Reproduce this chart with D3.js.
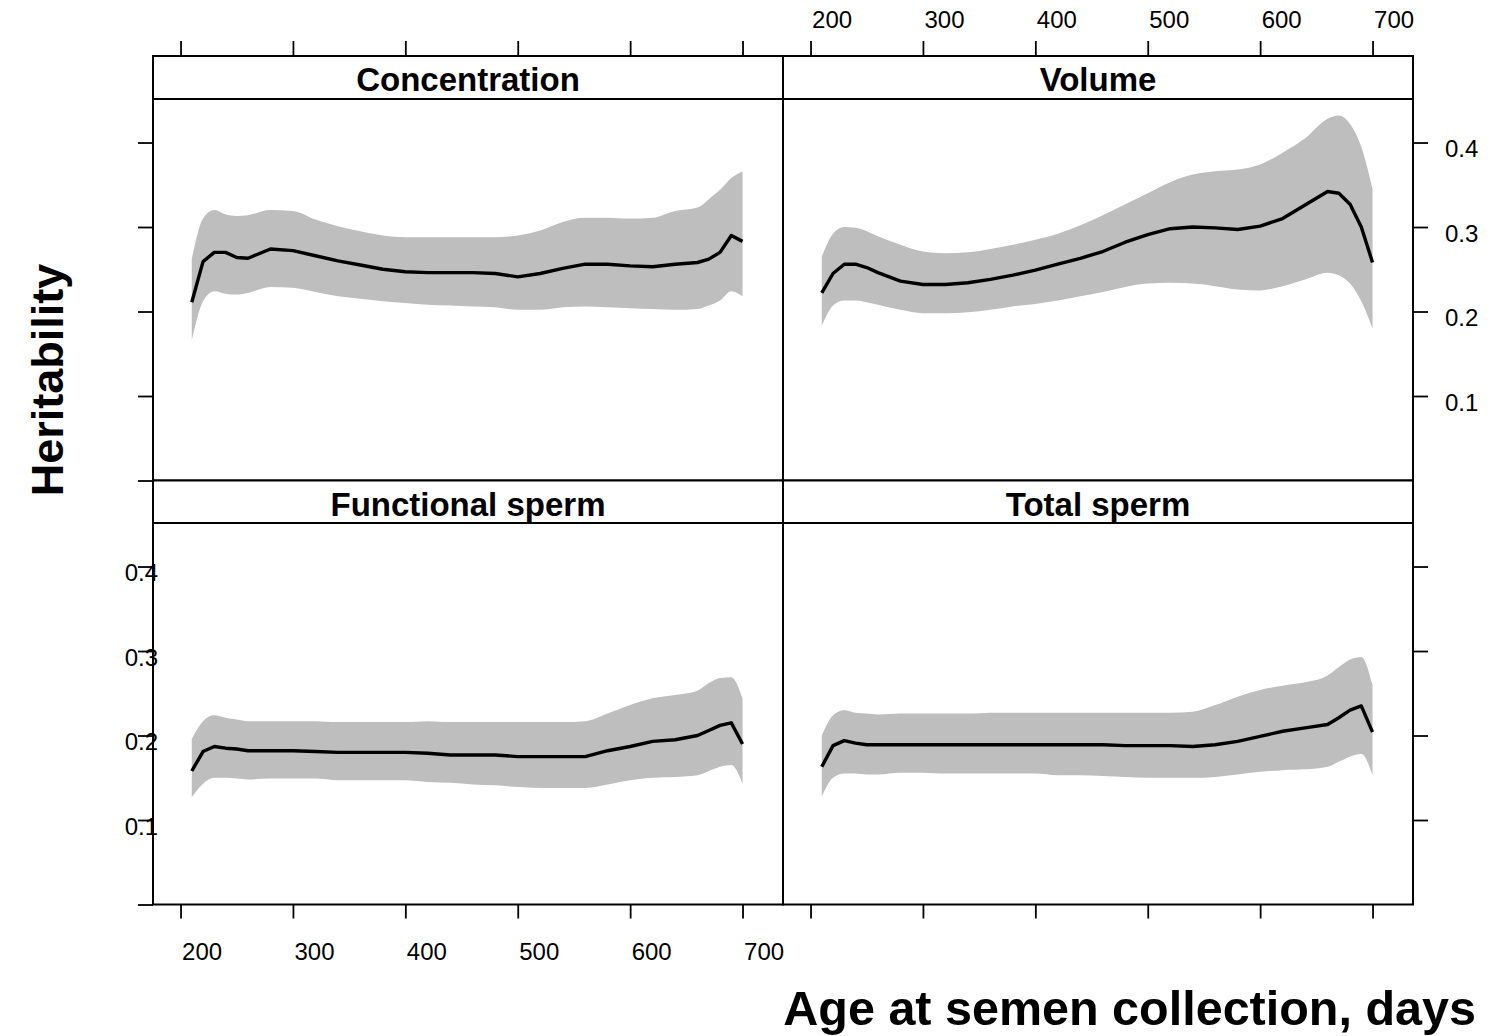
<!DOCTYPE html>
<html>
<head>
<meta charset="utf-8">
<script src="https://cdn.jsdelivr.net/npm/d3@7"></script>
<style>
  body { margin: 0; background: #ffffff; }
  svg { display: block; }
</style>
</head>
<body>
<svg id="chart" width="1489" height="1036"></svg>
<script>
// ---------------- data ----------------
const ages = [210,220,230,240,250,260,280,300,320,340,360,380,400,420,440,460,480,500,520,540,560,580,600,620,640,660,670,680,690,700];

const panelNames = ["Concentration", "Volume", "Functional sperm", "Total sperm"];

const concMean  = [0.211,0.259,0.270,0.270,0.264,0.263,0.274,0.272,0.266,0.260,0.255,0.250,0.247,0.246,0.246,0.246,0.245,0.241,0.245,0.251,0.256,0.256,0.254,0.253,0.256,0.258,0.262,0.270,0.290,0.283];
const concUpper = [0.262,0.310,0.320,0.315,0.313,0.314,0.320,0.319,0.309,0.301,0.295,0.290,0.288,0.288,0.288,0.288,0.288,0.290,0.296,0.306,0.311,0.311,0.310,0.311,0.319,0.323,0.333,0.344,0.358,0.366];
const concLower = [0.166,0.212,0.224,0.221,0.220,0.222,0.229,0.228,0.223,0.218,0.215,0.212,0.210,0.208,0.207,0.206,0.205,0.202,0.202,0.205,0.206,0.205,0.204,0.203,0.202,0.203,0.207,0.213,0.224,0.218];

const volMean  = [0.222,0.245,0.256,0.256,0.252,0.246,0.236,0.232,0.232,0.234,0.238,0.243,0.249,0.256,0.263,0.271,0.282,0.291,0.298,0.300,0.299,0.297,0.301,0.310,0.326,0.342,0.340,0.327,0.300,0.258];
const volUpper = [0.265,0.292,0.300,0.299,0.295,0.289,0.279,0.271,0.269,0.270,0.274,0.279,0.285,0.292,0.302,0.314,0.327,0.340,0.353,0.362,0.366,0.368,0.374,0.388,0.405,0.428,0.432,0.422,0.395,0.345];
const volLower = [0.183,0.207,0.213,0.213,0.211,0.208,0.202,0.198,0.198,0.199,0.202,0.206,0.209,0.213,0.218,0.223,0.229,0.233,0.234,0.233,0.230,0.226,0.225,0.230,0.238,0.246,0.243,0.233,0.212,0.180];

const funcMean  = [0.158,0.181,0.187,0.185,0.184,0.182,0.182,0.182,0.181,0.180,0.180,0.180,0.180,0.179,0.177,0.177,0.177,0.175,0.175,0.175,0.175,0.182,0.187,0.193,0.195,0.200,0.206,0.212,0.215,0.190];
const funcUpper = [0.196,0.217,0.224,0.221,0.219,0.217,0.217,0.217,0.217,0.216,0.216,0.216,0.216,0.217,0.216,0.216,0.216,0.216,0.216,0.216,0.217,0.226,0.236,0.244,0.248,0.253,0.262,0.268,0.269,0.244];
const funcLower = [0.127,0.143,0.150,0.150,0.149,0.148,0.149,0.149,0.149,0.147,0.147,0.147,0.147,0.145,0.144,0.142,0.141,0.139,0.138,0.138,0.138,0.142,0.147,0.150,0.151,0.153,0.158,0.163,0.165,0.143];

const totMean  = [0.163,0.188,0.194,0.191,0.189,0.189,0.189,0.189,0.189,0.189,0.189,0.189,0.189,0.189,0.189,0.189,0.188,0.188,0.188,0.187,0.189,0.193,0.199,0.205,0.209,0.213,0.221,0.230,0.235,0.204];
const totUpper = [0.200,0.224,0.230,0.227,0.226,0.225,0.226,0.226,0.226,0.226,0.227,0.227,0.227,0.227,0.227,0.227,0.227,0.227,0.227,0.228,0.236,0.246,0.254,0.259,0.263,0.271,0.281,0.290,0.293,0.260];
const totLower = [0.128,0.150,0.155,0.155,0.154,0.154,0.156,0.156,0.155,0.155,0.155,0.155,0.155,0.153,0.153,0.152,0.151,0.150,0.150,0.150,0.151,0.154,0.157,0.159,0.160,0.163,0.169,0.175,0.178,0.153];

const xTicks = [200, 300, 400, 500, 600, 700];
const yTicks = [0, 0.1, 0.2, 0.3, 0.4];
const yTickLabels = ["", "0.1", "0.2", "0.3", "0.4"];

const xTitle = "Age at semen collection, days";
const yTitle = "Heritability";

// ---------------- layout ----------------
const svg = d3.select("#chart");
const FONT = "'Liberation Sans', Arial, Helvetica, sans-serif";
const colL = [153, 783], colR = [783, 1413];
const rowTop = {strip: 56, plotTop: 99, plotBot: 480.5};
const rowBot = {strip: 480.5, plotTop: 523, plotBot: 904.5};
const xDomain = [175.5, 736];
const yDomain = [0, 0.4515];

const xL = d3.scaleLinear().domain(xDomain).range(colL);
const xR = d3.scaleLinear().domain(xDomain).range(colR);
const yT = d3.scaleLinear().domain(yDomain).range([rowTop.plotBot, rowTop.plotTop]);
const yB = d3.scaleLinear().domain(yDomain).range([rowBot.plotBot, rowBot.plotTop]);

const panels = [
  {name: panelNames[0], x: xL, y: yT, col: colL, row: rowTop, mean: concMean, lo: concLower, hi: concUpper},
  {name: panelNames[1], x: xR, y: yT, col: colR, row: rowTop, mean: volMean,  lo: volLower,  hi: volUpper},
  {name: panelNames[2], x: xL, y: yB, col: colL, row: rowBot, mean: funcMean, lo: funcLower, hi: funcUpper},
  {name: panelNames[3], x: xR, y: yB, col: colR, row: rowBot, mean: totMean,  lo: totLower,  hi: totUpper}
];

const defs = svg.append("defs");

panels.forEach((p, i) => {
  const id = "clip" + i;
  defs.append("clipPath").attr("id", id)
    .append("rect")
    .attr("x", p.col[0]).attr("y", p.row.plotTop)
    .attr("width", p.col[1] - p.col[0]).attr("height", p.row.plotBot - p.row.plotTop);

  const g = svg.append("g").attr("clip-path", `url(#${id})`);
  const rows = ages.map((a, k) => ({a, m: p.mean[k], lo: p.lo[k], hi: p.hi[k]}));

  const area = d3.area()
    .x(d => p.x(d.a))
    .y0(d => p.y(d.lo))
    .y1(d => p.y(d.hi))
    .curve(d3.curveMonotoneX);
  g.append("path").datum(rows).attr("d", area).attr("fill", "#bebebe").attr("stroke", "none");

  const line = d3.line()
    .x(d => p.x(d.a))
    .y(d => p.y(d.m))
    .curve(d3.curveLinear);
  g.append("path").datum(rows).attr("d", line)
    .attr("fill", "none").attr("stroke", "#000").attr("stroke-width", 3.4)
    .attr("stroke-linejoin", "round").attr("stroke-linecap", "butt");

  // strip
  svg.append("rect")
    .attr("x", p.col[0]).attr("y", p.row.strip)
    .attr("width", p.col[1] - p.col[0]).attr("height", p.row.plotTop - p.row.strip)
    .attr("fill", "#fff").attr("stroke", "#000").attr("stroke-width", 2);
  svg.append("text")
    .attr("x", (p.col[0] + p.col[1]) / 2).attr("y", p.row.strip + 35)
    .attr("text-anchor", "middle")
    .attr("font-family", FONT).attr("font-weight", "bold").attr("font-size", 33)
    .text(p.name);

  // plot frame
  svg.append("rect")
    .attr("x", p.col[0]).attr("y", p.row.plotTop)
    .attr("width", p.col[1] - p.col[0]).attr("height", p.row.plotBot - p.row.plotTop)
    .attr("fill", "none").attr("stroke", "#000").attr("stroke-width", 2);
});

// ---------------- axes ----------------
function styleAxis(g) {
  g.select(".domain").remove();
  g.selectAll(".tick line").attr("stroke", "#000").attr("stroke-width", 1.8);
  g.selectAll(".tick text").attr("fill", "#000").attr("font-family", FONT).attr("font-size", 24);
}

// top-left: ticks only
svg.append("g").attr("transform", `translate(0,${rowTop.strip})`)
  .call(d3.axisTop(xL).tickValues(xTicks).tickSize(15).tickFormat(""))
  .call(styleAxis);

// top-right: ticks + labels (labels start at tick)
svg.append("g").attr("transform", `translate(0,${rowTop.strip})`)
  .call(d3.axisTop(xR).tickValues(xTicks).tickSize(15).tickFormat(d3.format("d")))
  .call(styleAxis)
  .call(g => g.selectAll(".tick text").attr("text-anchor", "start").attr("x", 1).attr("y", -28).attr("dy", 0));

// bottom-left: ticks + labels
svg.append("g").attr("transform", `translate(0,${rowBot.plotBot})`)
  .call(d3.axisBottom(xL).tickValues(xTicks).tickSize(14).tickFormat(d3.format("d")))
  .call(styleAxis)
  .call(g => g.selectAll(".tick text").attr("text-anchor", "start").attr("x", 1).attr("y", 55).attr("dy", 0));

// bottom-right: ticks only
svg.append("g").attr("transform", `translate(0,${rowBot.plotBot})`)
  .call(d3.axisBottom(xR).tickValues(xTicks).tickSize(14).tickFormat(""))
  .call(styleAxis);

// left-top: ticks only
svg.append("g").attr("transform", `translate(${colL[0]},0)`)
  .call(d3.axisLeft(yT).tickValues(yTicks).tickSize(15).tickFormat(""))
  .call(styleAxis);

// left-bottom: ticks + labels (overlapping the axis line)
svg.append("g").attr("transform", `translate(${colL[0]},0)`)
  .call(d3.axisLeft(yB).tickValues(yTicks).tickSize(15).tickFormat((d, i) => yTickLabels[i]))
  .call(styleAxis)
  .call(g => g.selectAll(".tick text").attr("text-anchor", "end").attr("x", 5).attr("y", 14).attr("dy", 0));

// right-top: ticks + labels
svg.append("g").attr("transform", `translate(${colR[1]},0)`)
  .call(d3.axisRight(yT).tickValues(yTicks.slice(1)).tickSize(15).tickFormat((d, i) => yTickLabels[i + 1]))
  .call(styleAxis)
  .call(g => g.selectAll(".tick text").attr("text-anchor", "start").attr("x", 32).attr("y", 14).attr("dy", 0));

// right-bottom: ticks only
svg.append("g").attr("transform", `translate(${colR[1]},0)`)
  .call(d3.axisRight(yB).tickValues(yTicks.slice(1)).tickSize(15).tickFormat(""))
  .call(styleAxis);

// ---------------- titles ----------------
svg.append("text")
  .attr("x", 1476).attr("y", 1025)
  .attr("text-anchor", "end")
  .attr("font-family", FONT).attr("font-weight", "bold").attr("font-size", 48.5)
  .text(xTitle);

svg.append("text")
  .attr("transform", "translate(63,380) rotate(-90)")
  .attr("text-anchor", "middle")
  .attr("font-family", FONT).attr("font-weight", "bold").attr("font-size", 45)
  .text(yTitle);
</script>
</body>
</html>
